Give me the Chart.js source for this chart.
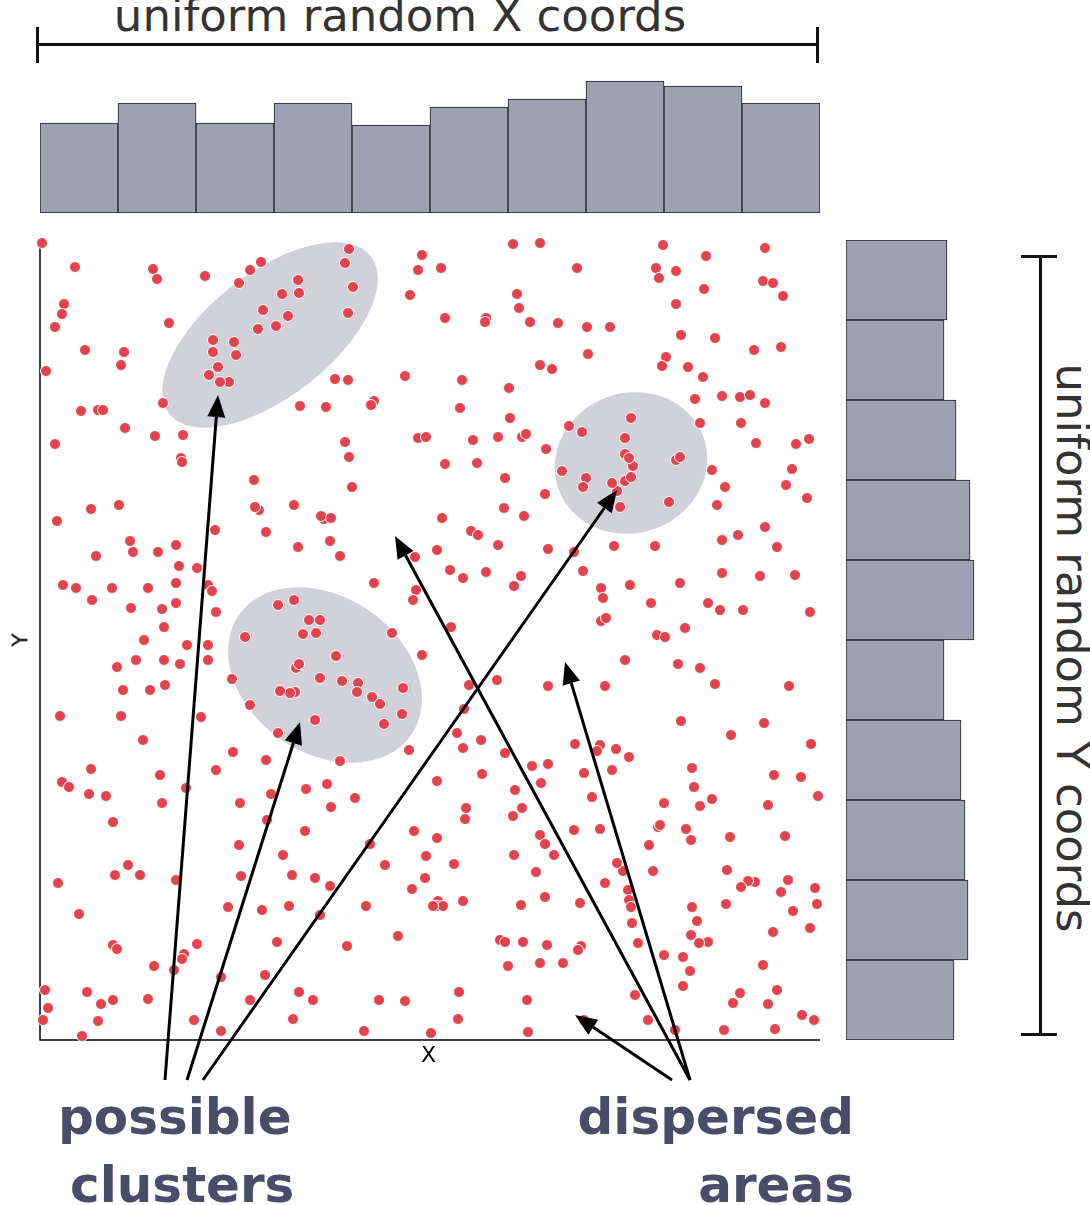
<!DOCTYPE html>
<html><head><meta charset="utf-8">
<script src="https://cdn.jsdelivr.net/npm/chart.js@4"></script>
<style>
body{margin:0;width:1090px;height:1205px;background:#fff;position:relative;overflow:hidden;font-family:"DejaVu Sans",sans-serif}
canvas{position:absolute}
.t{position:absolute;white-space:nowrap;color:#333}
.b{position:absolute;white-space:nowrap;color:#4a4d6a;font-weight:bold;font-size:50px;line-height:60px}
</style></head><body>
<div id="c1" style="position:absolute;left:30px;top:230px;width:800px;height:870px"><canvas id="sc"></canvas></div>
<div style="position:absolute;left:40px;top:60px;width:780px;height:153px"><canvas id="hx"></canvas></div>
<div style="position:absolute;left:846px;top:240px;width:140px;height:800px"><canvas id="hy"></canvas></div>
<div class="t" style="left:0;width:800px;text-align:center;top:-11px;font-size:45px;line-height:54px">uniform random X coords</div>
<div style="position:absolute;left:37px;top:43px;width:781px;height:3px;background:#111"></div>
<div style="position:absolute;left:36px;top:27px;width:3px;height:36px;background:#111"></div>
<div style="position:absolute;left:816px;top:27px;width:3px;height:36px;background:#111"></div>
<div style="position:absolute;left:1039px;top:256px;width:3px;height:780px;background:#111"></div>
<div style="position:absolute;left:1021px;top:255px;width:36px;height:3px;background:#111"></div>
<div style="position:absolute;left:1021px;top:1033px;width:36px;height:3px;background:#111"></div>
<div class="t" style="left:1072px;top:648px;font-size:45px;line-height:54px;transform:translate(-50%,-50%) rotate(90deg)">uniform random Y coords</div>
<div class="t" style="left:421px;top:1042px;font-size:22px;color:#000">X</div>
<div class="t" style="left:20px;top:640px;font-size:22px;color:#000;transform:translate(-50%,-50%) rotate(-90deg)">Y</div>
<div class="b" style="left:58px;top:1087px">possible</div>
<div class="b" style="left:70px;top:1155px">clusters</div>
<div class="b" style="right:236px;top:1087px">dispersed</div>
<div class="b" style="right:236px;top:1155px">areas</div>
<script>
// points (pixel-based units: x across, y up)
const pointsPx = [
[42,243],[75,267],[153,269],[157,279],[205,276],[261,262],[250,270],[239,283],[349,249],[345,263],[353,287],[298,280],[299,293],[282,294],[422,255],[418,270],[441,268],[410,295],[513,244],[540,243],[577,268],[663,245],[656,268],[676,271],[659,278],[706,256],[765,248],[763,281],[773,283],[783,296],[704,289],[64,304],[517,294],
[62,314],[55,327],[169,323],[263,310],[288,316],[276,326],[258,329],[234,342],[213,340],[213,352],[236,355],[348,313],[445,318],[486,318],[485,322],[519,308],[530,322],[558,323],[587,327],[610,327],[676,304],[681,335],[715,338],[754,350],[781,347],[85,350],[124,352],[121,365],[46,371],[588,354],[540,365],[552,369],[666,357],[662,366],[688,367],[218,367],[229,382],[209,375],[220,382],[335,379],[348,380],[405,376],[462,380],[509,388],[703,377],[722,396],[740,397],[750,395],[81,411],[98,410],[103,410],[163,403],[300,406],[326,407],[374,401],[371,405],[460,408],[765,403],[695,399],
[55,444],[125,428],[155,436],[183,435],[181,458],[182,462],[345,442],[349,457],[418,438],[426,437],[473,440],[498,437],[510,418],[522,437],[526,434],[546,449],[569,426],[582,432],[631,418],[625,438],[625,454],[633,466],[625,481],[617,491],[631,477],[629,458],[676,460],[680,457],[669,502],[700,423],[741,423],[756,443],[809,439],[796,444],[792,469],[254,480],[294,505],[352,487],[445,464],[477,463],[505,478],[562,471],[586,478],[583,487],[612,483],[608,504],[545,494],[504,508],[524,516],[620,507],[725,487],[717,505],[786,485],[712,470],
[57,521],[91,509],[119,505],[259,510],[255,507],[266,532],[324,519],[321,516],[331,518],[215,530],[330,541],[442,518],[471,531],[478,535],[498,545],[437,550],[130,541],[133,552],[158,552],[176,545],[96,556],[179,566],[63,585],[76,588],[92,600],[112,588],[148,588],[176,583],[197,568],[208,585],[212,591],[298,547],[340,556],[374,583],[415,557],[416,590],[413,600],[450,570],[463,578],[486,572],[514,586],[521,576],[548,549],[574,552],[583,571],[601,588],[603,598],[630,585],[614,546],[655,546],[680,583],[722,540],[738,535],[765,527],[807,498],[777,547],[722,573],[760,576],[795,575],[720,610],
[131,608],[162,609],[176,603],[216,612],[278,605],[294,600],[309,620],[320,620],[303,634],[316,633],[245,637],[336,656],[392,633],[451,627],[601,621],[606,618],[651,603],[657,635],[665,637],[685,628],[708,603],[743,610],[810,612],[144,640],[164,627],[187,645],[117,667],[136,660],[164,660],[208,645],[123,690],[150,690],[165,685],[180,664],[208,660],[232,679],[296,668],[299,664],[320,678],[295,692],[290,693],[280,691],[342,681],[358,683],[372,697],[357,692],[403,688],[422,655],[469,685],[497,680],[464,709],[548,686],[605,686],[625,660],[678,664],[700,668],[789,686],[715,684],[60,716],[121,716],[201,717],[250,705],[402,714],[380,704],[384,724],[315,720],[278,733],[143,740],
[233,752],[266,760],[340,761],[409,750],[457,733],[463,748],[481,740],[505,753],[532,766],[548,764],[575,744],[600,745],[597,751],[616,749],[681,721],[731,735],[764,723],[811,744],[91,769],[62,782],[69,787],[160,775],[186,788],[216,770],[89,794],[106,796],[113,822],[240,803],[271,794],[267,820],[306,789],[327,784],[331,807],[355,798],[437,781],[482,774],[515,790],[522,808],[541,783],[584,773],[612,770],[629,757],[592,797],[692,768],[694,787],[664,803],[712,799],[700,806],[686,829],[658,827],[774,775],[801,777],[818,796],[730,837],
[162,803],[239,845],[305,831],[370,844],[414,831],[437,838],[466,808],[465,819],[426,856],[513,816],[540,835],[545,844],[554,855],[514,855],[536,872],[574,830],[600,829],[623,871],[649,845],[617,863],[660,825],[691,840],[768,805],[785,836],[128,865],[115,875],[140,875],[176,880],[58,883],[241,876],[283,855],[292,875],[315,878],[330,886],[385,865],[425,878],[454,864],[438,901],[437,906],[443,906],[433,906],[366,906],[412,889],[463,901],[545,897],[580,903],[605,883],[628,890],[629,900],[653,871],[727,870],[755,882],[748,881],[741,887],[781,892],[788,880],[815,888],[817,904],
[79,914],[228,907],[262,910],[289,906],[320,915],[521,905],[631,907],[692,907],[632,923],[697,921],[726,904],[793,911],[810,928],[773,932],[113,945],[117,949],[184,954],[182,959],[197,944],[277,942],[347,946],[398,936],[500,940],[505,942],[523,942],[547,945],[581,946],[638,943],[691,935],[708,942],[699,943],[664,955],[683,957],[508,966],[540,963],[563,963],[578,950],[690,971],[763,965],[154,966],[174,970],[221,977],[265,975],[45,990],[87,992],[113,1000],[101,1004],[148,999],[299,992],[313,1000],[379,1000],[405,1001],[459,992],[527,1000],[635,995],[683,986],[740,993],[777,990],[733,1003],[768,1004],[802,1015],[48,1008],[43,1020],[98,1021],[221,1031],[293,1019],[364,1031],[431,1033],[458,1019],[528,1032],[648,1020],[675,1030],[724,1030],[775,1029],[814,1020],[82,1036],[194,1020],[250,1000],[584,1020]
];
const points = pointsPx.map(p=>({x:p[0]-40,y:1040-p[1]}));
const xBins = [0,1,2,3,4,5,6,7,8,9];
const xCounts = [90,110,90,110,88,106,114,132,127,110];
const yBins = [0,1,2,3,4,5,6,7,8,9];          // top to bottom
const yCounts = [101,98,110,124,128,98,115,119,122,108];
// ellipses: [cx, cy, rx, ry, angleDeg] in same units
const ellipses = [[230,705,128,62,-38],[591,577,77,70,-20],[285,365,105,78,35]];
// arrows: [x1,y1,x2,y2]
const arrows = [[125,-40,178,645],[147,-40,260,318],[163,-40,577,550],[650,-40,355,504],[650,-40,525,378],[632,-40,535,25]];

const overlay = {id:'ov',
 beforeDatasetsDraw(ch){const c=ch.ctx,sx=ch.scales.x,sy=ch.scales.y,a=ch.chartArea;
  c.save();c.fillStyle='rgba(190,191,203,0.72)';
  ellipses.forEach(e=>{const cx=sx.getPixelForValue(e[0]),cy=sy.getPixelForValue(e[1]);
   const rx=Math.abs(sx.getPixelForValue(e[2])-sx.getPixelForValue(0)),ry=Math.abs(sy.getPixelForValue(e[3])-sy.getPixelForValue(0));
   c.beginPath();c.ellipse(cx,cy,rx,ry,e[4]*Math.PI/180,0,2*Math.PI);c.fill();});
  c.strokeStyle='#000';c.lineWidth=1.5;c.beginPath();c.moveTo(a.left,a.top);c.lineTo(a.left,a.bottom);c.lineTo(a.right,a.bottom);c.stroke();
  c.restore();},
 afterDatasetsDraw(ch){const c=ch.ctx,sx=ch.scales.x,sy=ch.scales.y;
  c.save();c.strokeStyle='#000';c.fillStyle='#000';c.lineWidth=3;
  arrows.forEach(r=>{const x1=sx.getPixelForValue(r[0]),y1=sy.getPixelForValue(r[1]),x2=sx.getPixelForValue(r[2]),y2=sy.getPixelForValue(r[3]);
   const ang=Math.atan2(y2-y1,x2-x1),L=22,W=9;
   const bx=x2-L*Math.cos(ang),by=y2-L*Math.sin(ang);
   c.beginPath();c.moveTo(x1,y1);c.lineTo(bx,by);c.stroke();
   c.beginPath();c.moveTo(x2,y2);c.lineTo(bx+W*Math.sin(ang),by-W*Math.cos(ang));c.lineTo(bx-W*Math.sin(ang),by+W*Math.cos(ang));c.closePath();c.fill();});
  c.restore();}};

new Chart(document.getElementById('sc'),{type:'scatter',
 data:{datasets:[{data:points,backgroundColor:'#e2434f',borderColor:'#fff',borderWidth:1,pointRadius:5.5,clip:false}]},
 options:{responsive:true,maintainAspectRatio:false,animation:false,layout:{padding:{left:10,right:10,top:10,bottom:60}},
  plugins:{legend:{display:false},tooltip:{enabled:false}},
  scales:{x:{type:'linear',min:0,max:780,display:false},y:{type:'linear',min:0,max:800,display:false}}},
 plugins:[overlay]});

const barDs=(d)=>({data:d,backgroundColor:'#9ea1b2',borderColor:'#222',borderWidth:1,borderSkipped:false,categoryPercentage:1,barPercentage:1});
new Chart(document.getElementById('hx'),{type:'bar',data:{labels:xBins,datasets:[barDs(xCounts)]},
 options:{responsive:true,maintainAspectRatio:false,animation:false,plugins:{legend:{display:false},tooltip:{enabled:false}},
  scales:{x:{display:false},y:{display:false,min:0,max:153}}}});
new Chart(document.getElementById('hy'),{type:'bar',data:{labels:yBins,datasets:[barDs(yCounts)]},
 options:{indexAxis:'y',responsive:true,maintainAspectRatio:false,animation:false,plugins:{legend:{display:false},tooltip:{enabled:false}},
  scales:{y:{display:false},x:{display:false,min:0,max:140}}}});
</script></body></html>
